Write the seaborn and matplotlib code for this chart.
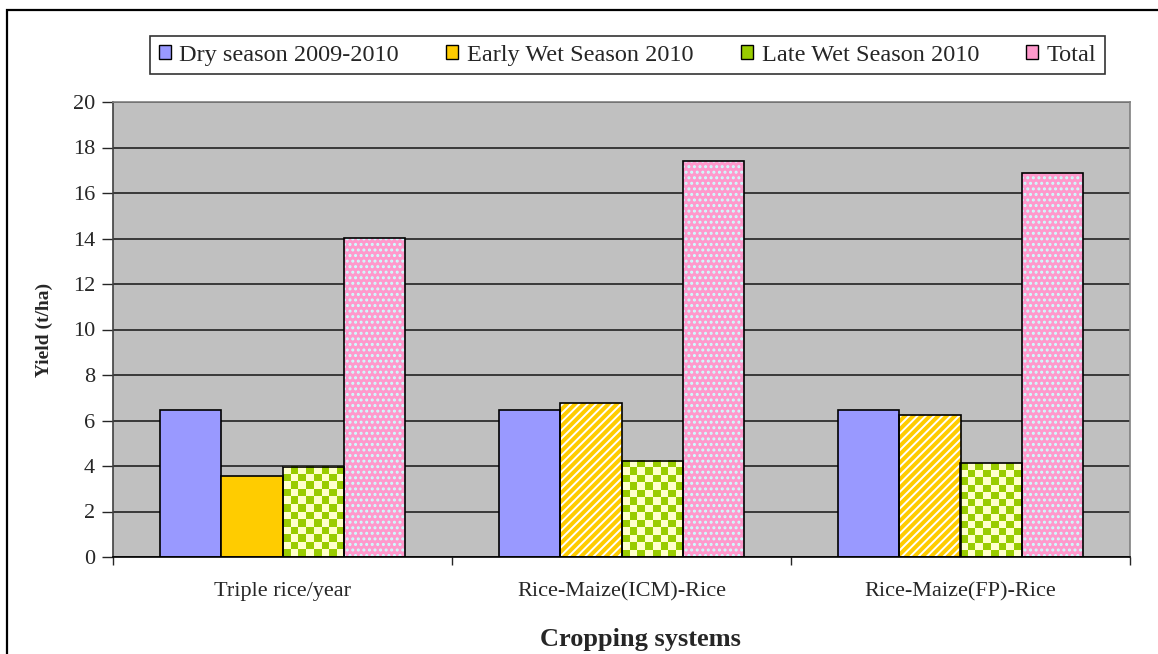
import numpy as np
import pandas as pd
import matplotlib
matplotlib.use('Agg')
import matplotlib.pyplot as plt
from matplotlib.patches import Rectangle, Patch
from matplotlib.colors import ListedColormap
import seaborn as sns

# ── Data ─────────────────────────────────────────────────────────────────────
systems = ['Triple rice/year', 'Rice-Maize(ICM)-Rice', 'Rice-Maize(FP)-Rice']
seasons = ['Dry season 2009-2010', 'Early Wet Season 2010',
           'Late Wet Season 2010', 'Total']
dry_season = [6.45, 6.45, 6.44]
early_wet = [3.56, 6.78, 6.26]
late_wet = [3.97, 4.23, 4.12]
total = [14.04, 17.42, 16.88]

df = pd.DataFrame({
    'system': systems * 4,
    'season': np.repeat(seasons, 3),
    'yield': dry_season + early_wet + late_wet + total,
})

# ── Styling ──────────────────────────────────────────────────────────────────
sns.set_style('white')
plt.rcParams['font.family'] = ['Liberation Serif', 'DejaVu Serif']
plt.rcParams['hatch.linewidth'] = 1.4

C_DRY = '#9999FF'
C_EARLY = '#FFCC00'
C_LATE = '#99CC00'
C_LATE2 = '#FFFFCC'
C_TOTAL = '#FF99CC'
C_DOT = '#CCFFFF'

fig = plt.figure(figsize=(11.58, 6.54), dpi=100)
ax = fig.add_axes([113 / 1158, 1 - 557 / 654, 1017 / 1158, 455 / 654])
ax.set_facecolor('#C0C0C0')

sns.barplot(data=df, x='system', y='yield', hue='season', order=systems,
            hue_order=seasons, width=0.72, gap=0, ax=ax, legend=False,
            edgecolor='black', linewidth=1.2, saturation=1,
            palette=[C_DRY, C_EARLY, C_LATE, C_TOTAL])

# pattern fills: stripes (early wet, not the first group), checkerboard, dots
checker_cmap = ListedColormap([C_LATE, C_LATE2])
for level, cont in zip(seasons, ax.containers):
    for i, bar in enumerate(cont):
        x0, y0 = bar.get_x(), bar.get_y()
        w, h = bar.get_width(), bar.get_height()
        if level == 'Early Wet Season 2010' and i > 0:
            ax.add_patch(Rectangle((x0, y0), w, h, facecolor=C_EARLY,
                                   edgecolor='white', hatch='////',
                                   linewidth=0, zorder=bar.get_zorder() - 0.1))
            bar.set_facecolor('none')
        elif level == 'Late Wet Season 2010':
            rows = max(1, int(round(h / 0.32)))
            cols = 8
            rr, cc = np.indices((rows, cols))
            ax.imshow((rr + cc) % 2, cmap=checker_cmap, aspect='auto',
                      interpolation='nearest', origin='lower',
                      extent=(x0, x0 + w, y0, y0 + h),
                      zorder=bar.get_zorder() - 0.1)
            bar.set_facecolor('none')
        elif level == 'Total':
            ax.add_patch(Rectangle((x0, y0), w, h, facecolor=C_TOTAL,
                                   edgecolor=C_DOT, hatch='...',
                                   linewidth=0, zorder=bar.get_zorder() - 0.1))
            bar.set_facecolor('none')

# ── Axes ─────────────────────────────────────────────────────────────────────
ax.set_xlim(-0.5, 2.5)
ax.set_ylim(0, 20)
ax.set_yticks(np.arange(0, 21, 2))
ax.yaxis.grid(True, color='#222222', linewidth=1.2)
ax.set_axisbelow(True)
ax.set_xticks([-0.5, 0.5, 1.5, 2.5], minor=True)
ax.tick_params(axis='x', which='major', length=0, labelsize=16, pad=18)
ax.tick_params(axis='x', which='minor', length=6, width=1, direction='out',
               bottom=True)
ax.tick_params(axis='y', length=8, width=1, direction='out', left=True,
               labelsize=16, pad=5)
for s in ['top', 'right']:
    ax.spines[s].set_color('#808080')
ax.spines['left'].set_color('#404040')
ax.spines['bottom'].set_color('black')
for s in ax.spines.values():
    s.set_linewidth(1.2)

ax.set_xlabel('Cropping systems', fontsize=19, fontweight='bold')
ax.xaxis.set_label_coords(0.519, -0.156)
ax.set_ylabel('Yield (t/ha)', fontsize=14, fontweight='bold', labelpad=14)

handles = [
    Patch(facecolor=C_DRY, edgecolor='black', label=seasons[0]),
    Patch(facecolor=C_EARLY, edgecolor='black', label=seasons[1]),
    Patch(facecolor=C_LATE, edgecolor='black', label=seasons[2]),
    Patch(facecolor=C_TOTAL, edgecolor='black', label=seasons[3]),
]
leg = ax.legend(handles=handles, loc='center', bbox_to_anchor=(0.506, 1.103),
                ncol=4, fontsize=17.5, frameon=True, fancybox=False,
                edgecolor='black', handlelength=0.5, handleheight=0.5,
                handletextpad=0.35, columnspacing=1.95, borderpad=0.35)
leg.get_frame().set_linewidth(1.2)

# outer chart border
fig.add_artist(Rectangle((7 / 1158, -0.1), 1.2, 1.1 - 10.5 / 654,
                         transform=fig.transFigure, fill=False,
                         edgecolor='black', linewidth=1.6))

fig.savefig('out.png', dpi=100, facecolor='white')
